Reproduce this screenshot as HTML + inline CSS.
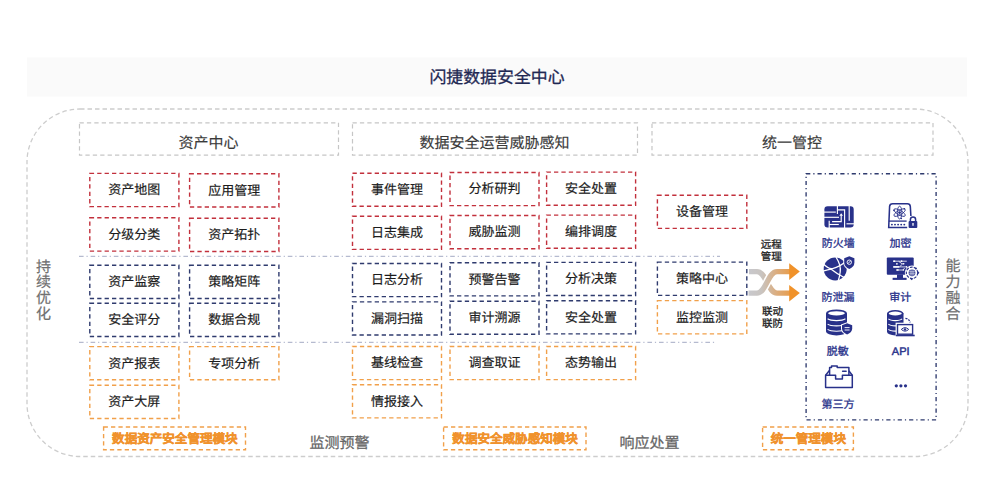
<!DOCTYPE html>
<html lang="zh-CN"><head><meta charset="utf-8"><title>闪捷数据安全中心</title>
<style>
html,body{margin:0;padding:0;background:#fff;}
body{width:995px;height:500px;overflow:hidden;font-family:"Liberation Sans",sans-serif;}
svg{display:block;}
svg text{font-family:"Liberation Sans",sans-serif;text-rendering:geometricPrecision;}
</style></head><body>
<svg width="995" height="500" viewBox="0 0 995 500">
<rect x="27" y="57.5" width="940" height="39" fill="#fafafa"/>
<text x="497.0" y="82.6" font-size="16.9" fill="#1f2853" font-weight="400" stroke="#1f2853" stroke-width="0.3" text-anchor="middle">闪捷数据安全中心</text>
<rect x="27" y="109" width="941" height="347.5" rx="53" ry="53" fill="none" stroke="#cdcdcd" stroke-width="1.3" stroke-dasharray="4.5 3"/>
<rect x="79.5" y="122.8" width="259.00" height="32.40" fill="none" stroke="#c6c6c6" stroke-width="1.2" stroke-dasharray="4.3 3.1"/>
<text x="208.40" y="147.6" font-size="15" fill="#3a3a3a" font-weight="400" stroke="#3a3a3a" stroke-width="0.15" text-anchor="middle">资产中心</text>
<rect x="352.5" y="122.8" width="285.00" height="32.40" fill="none" stroke="#c6c6c6" stroke-width="1.2" stroke-dasharray="4.3 3.1"/>
<text x="494.40" y="147.6" font-size="15" fill="#3a3a3a" font-weight="400" stroke="#3a3a3a" stroke-width="0.15" text-anchor="middle">数据安全运营威胁感知</text>
<rect x="652" y="122.8" width="281.00" height="32.40" fill="none" stroke="#c6c6c6" stroke-width="1.2" stroke-dasharray="4.3 3.1"/>
<text x="791.90" y="147.6" font-size="15" fill="#3a3a3a" font-weight="400" stroke="#3a3a3a" stroke-width="0.15" text-anchor="middle">统一管控</text>
<line x1="79" y1="256.3" x2="720" y2="256.3" stroke="#a3a9c4" stroke-width="1" stroke-dasharray="4.6 2.9 1.2 2.9"/>
<line x1="79" y1="342.3" x2="717" y2="342.3" stroke="#a3a9c4" stroke-width="1" stroke-dasharray="4.6 2.9 1.2 2.9"/>
<rect x="89.8" y="173.4" width="89.10" height="33.20" fill="none" stroke="#c2303c" stroke-width="1.4" stroke-dasharray="4.3 3.1"/>
<text x="134.35" y="194.30" font-size="13" fill="#1c1c1c" font-weight="400" stroke="#1c1c1c" stroke-width="0.17" text-anchor="middle">资产地图</text>
<rect x="189.6" y="173.8" width="89.30" height="33.20" fill="none" stroke="#c2303c" stroke-width="1.4" stroke-dasharray="4.3 3.1"/>
<text x="234.25" y="194.70" font-size="13" fill="#1c1c1c" font-weight="400" stroke="#1c1c1c" stroke-width="0.17" text-anchor="middle">应用管理</text>
<rect x="89.8" y="217.8" width="89.10" height="33.30" fill="none" stroke="#c2303c" stroke-width="1.4" stroke-dasharray="4.3 3.1"/>
<text x="134.35" y="238.75" font-size="13" fill="#1c1c1c" font-weight="400" stroke="#1c1c1c" stroke-width="0.17" text-anchor="middle">分级分类</text>
<rect x="189.6" y="218.20000000000002" width="89.30" height="33.30" fill="none" stroke="#c2303c" stroke-width="1.4" stroke-dasharray="4.3 3.1"/>
<text x="234.25" y="239.15" font-size="13" fill="#1c1c1c" font-weight="400" stroke="#1c1c1c" stroke-width="0.17" text-anchor="middle">资产拓扑</text>
<rect x="89.8" y="265.2" width="89.10" height="33.30" fill="none" stroke="#2f3b6e" stroke-width="1.4" stroke-dasharray="4.3 3.1"/>
<text x="134.35" y="286.15" font-size="13" fill="#1c1c1c" font-weight="400" stroke="#1c1c1c" stroke-width="0.17" text-anchor="middle">资产监察</text>
<rect x="189.6" y="265.2" width="89.30" height="33.30" fill="none" stroke="#2f3b6e" stroke-width="1.4" stroke-dasharray="4.3 3.1"/>
<text x="234.25" y="286.15" font-size="13" fill="#1c1c1c" font-weight="400" stroke="#1c1c1c" stroke-width="0.17" text-anchor="middle">策略矩阵</text>
<rect x="89.8" y="303.2" width="89.10" height="33.30" fill="none" stroke="#2f3b6e" stroke-width="1.4" stroke-dasharray="4.3 3.1"/>
<text x="134.35" y="324.15" font-size="13" fill="#1c1c1c" font-weight="400" stroke="#1c1c1c" stroke-width="0.17" text-anchor="middle">安全评分</text>
<rect x="189.6" y="303.2" width="89.30" height="33.30" fill="none" stroke="#2f3b6e" stroke-width="1.4" stroke-dasharray="4.3 3.1"/>
<text x="234.25" y="324.15" font-size="13" fill="#1c1c1c" font-weight="400" stroke="#1c1c1c" stroke-width="0.17" text-anchor="middle">数据合规</text>
<rect x="89.8" y="346.6" width="89.10" height="33.20" fill="none" stroke="#f1a04a" stroke-width="1.4" stroke-dasharray="4.3 3.1"/>
<text x="134.35" y="367.50" font-size="13" fill="#1c1c1c" font-weight="400" stroke="#1c1c1c" stroke-width="0.17" text-anchor="middle">资产报表</text>
<rect x="189.6" y="346.6" width="89.30" height="33.20" fill="none" stroke="#f1a04a" stroke-width="1.4" stroke-dasharray="4.3 3.1"/>
<text x="234.25" y="367.50" font-size="13" fill="#1c1c1c" font-weight="400" stroke="#1c1c1c" stroke-width="0.17" text-anchor="middle">专项分析</text>
<rect x="89.8" y="385.2" width="89.10" height="33.30" fill="none" stroke="#f1a04a" stroke-width="1.4" stroke-dasharray="4.3 3.1"/>
<text x="134.35" y="406.15" font-size="13" fill="#1c1c1c" font-weight="400" stroke="#1c1c1c" stroke-width="0.17" text-anchor="middle">资产大屏</text>
<rect x="352.5" y="173.2" width="89.00" height="33.10" fill="none" stroke="#c2303c" stroke-width="1.4" stroke-dasharray="4.3 3.1"/>
<text x="397.00" y="194.05" font-size="13" fill="#1c1c1c" font-weight="400" stroke="#1c1c1c" stroke-width="0.17" text-anchor="middle">事件管理</text>
<rect x="450" y="172.5" width="89.00" height="33.10" fill="none" stroke="#c2303c" stroke-width="1.4" stroke-dasharray="4.3 3.1"/>
<text x="494.50" y="193.35" font-size="13" fill="#1c1c1c" font-weight="400" stroke="#1c1c1c" stroke-width="0.17" text-anchor="middle">分析研判</text>
<rect x="546.6" y="172.1" width="89.00" height="33.10" fill="none" stroke="#c2303c" stroke-width="1.4" stroke-dasharray="4.3 3.1"/>
<text x="591.10" y="192.95" font-size="13" fill="#1c1c1c" font-weight="400" stroke="#1c1c1c" stroke-width="0.17" text-anchor="middle">安全处置</text>
<rect x="352.5" y="216.2" width="89.00" height="33.20" fill="none" stroke="#c2303c" stroke-width="1.4" stroke-dasharray="4.3 3.1"/>
<text x="397.00" y="237.10" font-size="13" fill="#1c1c1c" font-weight="400" stroke="#1c1c1c" stroke-width="0.17" text-anchor="middle">日志集成</text>
<rect x="450" y="215.5" width="89.00" height="33.20" fill="none" stroke="#c2303c" stroke-width="1.4" stroke-dasharray="4.3 3.1"/>
<text x="494.50" y="236.40" font-size="13" fill="#1c1c1c" font-weight="400" stroke="#1c1c1c" stroke-width="0.17" text-anchor="middle">威胁监测</text>
<rect x="546.6" y="215.1" width="89.00" height="33.20" fill="none" stroke="#c2303c" stroke-width="1.4" stroke-dasharray="4.3 3.1"/>
<text x="591.10" y="236.00" font-size="13" fill="#1c1c1c" font-weight="400" stroke="#1c1c1c" stroke-width="0.17" text-anchor="middle">编排调度</text>
<rect x="352.5" y="263.5" width="89.00" height="33.10" fill="none" stroke="#2f3b6e" stroke-width="1.4" stroke-dasharray="4.3 3.1"/>
<text x="397.00" y="284.35" font-size="13" fill="#1c1c1c" font-weight="400" stroke="#1c1c1c" stroke-width="0.17" text-anchor="middle">日志分析</text>
<rect x="450" y="262.8" width="89.00" height="33.10" fill="none" stroke="#2f3b6e" stroke-width="1.4" stroke-dasharray="4.3 3.1"/>
<text x="494.50" y="283.65" font-size="13" fill="#1c1c1c" font-weight="400" stroke="#1c1c1c" stroke-width="0.17" text-anchor="middle">预警告警</text>
<rect x="546.6" y="262.4" width="89.00" height="33.10" fill="none" stroke="#2f3b6e" stroke-width="1.4" stroke-dasharray="4.3 3.1"/>
<text x="591.10" y="283.25" font-size="13" fill="#1c1c1c" font-weight="400" stroke="#1c1c1c" stroke-width="0.17" text-anchor="middle">分析决策</text>
<rect x="352.5" y="301.9" width="89.00" height="33.10" fill="none" stroke="#2f3b6e" stroke-width="1.4" stroke-dasharray="4.3 3.1"/>
<text x="397.00" y="322.75" font-size="13" fill="#1c1c1c" font-weight="400" stroke="#1c1c1c" stroke-width="0.17" text-anchor="middle">漏洞扫描</text>
<rect x="450" y="301.2" width="89.00" height="33.10" fill="none" stroke="#2f3b6e" stroke-width="1.4" stroke-dasharray="4.3 3.1"/>
<text x="494.50" y="322.05" font-size="13" fill="#1c1c1c" font-weight="400" stroke="#1c1c1c" stroke-width="0.17" text-anchor="middle">审计溯源</text>
<rect x="546.6" y="300.79999999999995" width="89.00" height="33.10" fill="none" stroke="#2f3b6e" stroke-width="1.4" stroke-dasharray="4.3 3.1"/>
<text x="591.10" y="321.65" font-size="13" fill="#1c1c1c" font-weight="400" stroke="#1c1c1c" stroke-width="0.17" text-anchor="middle">安全处置</text>
<rect x="352.5" y="346.5" width="89.00" height="33.10" fill="none" stroke="#f1a04a" stroke-width="1.4" stroke-dasharray="4.3 3.1"/>
<text x="397.00" y="367.35" font-size="13" fill="#1c1c1c" font-weight="400" stroke="#1c1c1c" stroke-width="0.17" text-anchor="middle">基线检查</text>
<rect x="450" y="346.5" width="89.00" height="33.10" fill="none" stroke="#f1a04a" stroke-width="1.4" stroke-dasharray="4.3 3.1"/>
<text x="494.50" y="367.35" font-size="13" fill="#1c1c1c" font-weight="400" stroke="#1c1c1c" stroke-width="0.17" text-anchor="middle">调查取证</text>
<rect x="546.6" y="346.5" width="89.00" height="33.10" fill="none" stroke="#f1a04a" stroke-width="1.4" stroke-dasharray="4.3 3.1"/>
<text x="591.10" y="367.35" font-size="13" fill="#1c1c1c" font-weight="400" stroke="#1c1c1c" stroke-width="0.17" text-anchor="middle">态势输出</text>
<rect x="352.5" y="384.7" width="89.00" height="33.20" fill="none" stroke="#f1a04a" stroke-width="1.4" stroke-dasharray="4.3 3.1"/>
<text x="397.00" y="405.60" font-size="13" fill="#1c1c1c" font-weight="400" stroke="#1c1c1c" stroke-width="0.17" text-anchor="middle">情报接入</text>
<rect x="657.4" y="195.3" width="89.40" height="33.10" fill="none" stroke="#c2303c" stroke-width="1.4" stroke-dasharray="4.3 3.1"/>
<text x="702.10" y="216.15" font-size="13" fill="#1c1c1c" font-weight="400" stroke="#1c1c1c" stroke-width="0.17" text-anchor="middle">设备管理</text>
<rect x="657.4" y="262.1" width="89.40" height="33.30" fill="none" stroke="#2f3b6e" stroke-width="1.4" stroke-dasharray="4.3 3.1"/>
<text x="702.10" y="283.05" font-size="13" fill="#1c1c1c" font-weight="400" stroke="#1c1c1c" stroke-width="0.17" text-anchor="middle">策略中心</text>
<rect x="657.4" y="300.6" width="89.40" height="33.30" fill="none" stroke="#f1a04a" stroke-width="1.4" stroke-dasharray="4.3 3.1"/>
<text x="702.10" y="321.55" font-size="13" fill="#1c1c1c" font-weight="400" stroke="#1c1c1c" stroke-width="0.17" text-anchor="middle">监控监测</text>
<text x="771.3" y="248" font-size="10.5" fill="#222" font-weight="400" stroke="#222" stroke-width="0.3" text-anchor="middle">远程</text>
<text x="771.3" y="259.6" font-size="10.5" fill="#222" font-weight="400" stroke="#222" stroke-width="0.3" text-anchor="middle">管理</text>
<text x="772.4" y="315.4" font-size="10.5" fill="#222" font-weight="400" stroke="#222" stroke-width="0.3" text-anchor="middle">联动</text>
<text x="772.4" y="327" font-size="10.5" fill="#222" font-weight="400" stroke="#222" stroke-width="0.3" text-anchor="middle">联防</text>
<defs><linearGradient id="ag" x1="749" y1="0" x2="800" y2="0" gradientUnits="userSpaceOnUse">
<stop offset="0" stop-color="#c8c8cc"/><stop offset="0.25" stop-color="#c9c4c0"/><stop offset="0.55" stop-color="#dcac7c"/><stop offset="1" stop-color="#f0922a"/></linearGradient></defs>
<path d="M749 271.6 H757 C766 271.6 768 293.1 777 293.1 H790" fill="none" stroke="url(#ag)" stroke-width="5.4"/>
<path d="M749 293.1 H757 C766 293.1 768 271.6 777 271.6 H790" fill="none" stroke="#fff" stroke-width="8.4"/>
<path d="M748.5 293.1 H757 C766 293.1 768 271.6 777 271.6 H790" fill="none" stroke="url(#ag)" stroke-width="5.4"/>
<g fill="#f0922a"><path d="M789.2 263.3 L799.8 271.6 L789.2 279.9 Z"/><path d="M789.2 285.1 L799.8 293.1 L789.2 301.5 Z"/></g>
<rect x="806.1" y="173.7" width="130" height="246.2" fill="none" stroke="#2f3b6e" stroke-width="1.35" stroke-dasharray="4.2 3 1.2 3"/>
<text x="838.3" y="246.5" font-size="11" fill="#28318a" font-weight="400" stroke="#28318a" stroke-width="0.3" text-anchor="middle">防火墙</text>
<text x="900.6" y="246.5" font-size="11" fill="#28318a" font-weight="400" stroke="#28318a" stroke-width="0.3" text-anchor="middle">加密</text>
<text x="838" y="300.6" font-size="11" fill="#28318a" font-weight="400" stroke="#28318a" stroke-width="0.3" text-anchor="middle">防泄漏</text>
<text x="900.3" y="300.6" font-size="11" fill="#28318a" font-weight="400" stroke="#28318a" stroke-width="0.3" text-anchor="middle">审计</text>
<text x="837.7" y="354.8" font-size="11" fill="#28318a" font-weight="400" stroke="#28318a" stroke-width="0.3" text-anchor="middle">脱敏</text>
<text x="838" y="408.4" font-size="11" fill="#28318a" font-weight="400" stroke="#28318a" stroke-width="0.3" text-anchor="middle">第三方</text>
<text x="900.7" y="354.8" font-size="11" fill="#28318a" font-weight="400" stroke="#28318a" stroke-width="0.45" text-anchor="middle">API</text>
<circle cx="896.3" cy="385.8" r="1.6" fill="#28318a"/>
<circle cx="900.9" cy="385.8" r="1.6" fill="#28318a"/>
<circle cx="905.5" cy="385.8" r="1.6" fill="#28318a"/>
<rect x="103.6" y="427" width="141.90" height="22.80" fill="none" stroke="#f1a04a" stroke-width="1.4" stroke-dasharray="4.3 3.1"/>
<text x="174.85" y="442.7" font-size="12.55" fill="#f0922c" font-weight="700" stroke="#f0922c" stroke-width="0.35" text-anchor="middle">数据资产安全管理模块</text>
<rect x="443.6" y="427" width="142.40" height="22.80" fill="none" stroke="#f1a04a" stroke-width="1.4" stroke-dasharray="4.3 3.1"/>
<text x="515.10" y="442.7" font-size="12.55" fill="#f0922c" font-weight="700" stroke="#f0922c" stroke-width="0.35" text-anchor="middle">数据安全威胁感知模块</text>
<rect x="762.6" y="427" width="90.80" height="22.80" fill="none" stroke="#f1a04a" stroke-width="1.4" stroke-dasharray="4.3 3.1"/>
<text x="808.30" y="442.7" font-size="12.55" fill="#f0922c" font-weight="700" stroke="#f0922c" stroke-width="0.35" text-anchor="middle">统一管理模块</text>
<text x="339.5" y="448" font-size="15" fill="#666" font-weight="400" stroke="#666" stroke-width="0.25" text-anchor="middle">监测预警</text>
<text x="649.6" y="448" font-size="15" fill="#666" font-weight="400" stroke="#666" stroke-width="0.25" text-anchor="middle">响应处置</text>
<text x="43.4" y="271.8" font-size="15" fill="#707070" font-weight="400" stroke="#707070" stroke-width="0.2" text-anchor="middle">持</text>
<text x="43.4" y="287.40000000000003" font-size="15" fill="#707070" font-weight="400" stroke="#707070" stroke-width="0.2" text-anchor="middle">续</text>
<text x="43.4" y="303.0" font-size="15" fill="#707070" font-weight="400" stroke="#707070" stroke-width="0.2" text-anchor="middle">优</text>
<text x="43.4" y="318.6" font-size="15" fill="#707070" font-weight="400" stroke="#707070" stroke-width="0.2" text-anchor="middle">化</text>
<text x="953.0" y="270.6" font-size="15" fill="#707070" font-weight="400" stroke="#707070" stroke-width="0.2" text-anchor="middle">能</text>
<text x="953.0" y="286.70000000000005" font-size="15" fill="#707070" font-weight="400" stroke="#707070" stroke-width="0.2" text-anchor="middle">力</text>
<text x="953.0" y="302.8" font-size="15" fill="#707070" font-weight="400" stroke="#707070" stroke-width="0.2" text-anchor="middle">融</text>
<text x="953.0" y="318.90000000000003" font-size="15" fill="#707070" font-weight="400" stroke="#707070" stroke-width="0.2" text-anchor="middle">合</text>
<g id="icons">
<!-- firewall -->
<g transform="translate(824.4 206.2)">
<rect x="0" y="0" width="29.3" height="21.3" rx="3.2" fill="#28318a"/>
<g stroke="#fff" stroke-width="1.15" fill="none">
<path d="M-0.5 5.9 H11.4"/>
<path d="M13 -0.5 V7.8"/>
<path d="M-0.5 11.1 H14.6"/>
<path d="M13 3.6 H20.2 V21.8"/>
<path d="M24.8 -0.5 V14.6"/>
<path d="M22.1 17.6 H29.8"/>
<path d="M7.7 15.4 H16.8 V9"/>
<path d="M4.8 14.6 V21.8"/>
<path d="M4.8 18.3 H14.4"/>
</g>
<path d="M15 9.6 L16.8 7.1 L18.6 9.6 Z" fill="#fff"/>
</g>
<!-- encryption -->
<g fill="none" stroke="#28318a">
<path d="M907.2 227.5 H888.7 L889.6 206.3 Q889.9 203.8 892.6 203.8 H907.4 Q910 203.8 910.3 206.3 L910.9 216" stroke-width="1.55"/>
<path d="M888.8 221.1 H906.6" stroke-width="1.3"/>
<g stroke-width="0.85">
<ellipse cx="899.6" cy="212.6" rx="6.4" ry="2.3" transform="rotate(90 899.6 212.6)"/>
<ellipse cx="899.6" cy="212.6" rx="6.4" ry="2.3" transform="rotate(30 899.6 212.6)"/>
<ellipse cx="899.6" cy="212.6" rx="6.4" ry="2.3" transform="rotate(-30 899.6 212.6)"/>
</g>
<path d="M910.4 221.3 V219.6 A2.6 2.6 0 0 1 915.6 219.6 V221.3" stroke-width="1.5"/>
</g>
<g fill="#28318a"><circle cx="899.6" cy="212.6" r="1.4"/><circle cx="894" cy="210.4" r="0.8"/><circle cx="904.4" cy="208.8" r="0.8"/><circle cx="901.3" cy="218.5" r="0.8"/></g>
<g fill="#28318a">
<circle cx="891.9" cy="224.6" r="0.95"/><circle cx="895" cy="224.6" r="0.95"/><circle cx="898.1" cy="224.6" r="0.95"/><circle cx="901.2" cy="224.6" r="0.95"/><circle cx="904.3" cy="224.6" r="0.95"/>
<rect x="908.6" y="221" width="8.7" height="6.9" rx="1"/>
</g>
<path d="M913 223 V225.8" stroke="#fff" stroke-width="1.3"/>
<!-- globe + shield -->
<circle cx="835.2" cy="268.9" r="11.5" fill="#28318a"/>
<g stroke="#fff" stroke-width="1.3" fill="none">
<path d="M823.2 263.8 Q828.5 269.3 832.5 268.6 Q840 266.8 847 260.5"/>
<path d="M823 271.2 Q828 269.6 831.2 269.2 Q836.5 273.5 845 278"/>
<path d="M835.9 257 Q841.2 265 840.2 272 Q839.6 277 838 281.5"/>
</g>
<path d="M849.3 255.3 L855.3 257.6 V262.5 Q855.3 267.6 849.3 270 Q843.3 267.6 843.3 262.5 V257.6 Z" fill="#fff"/>
<path d="M849.3 256.2 L854.4 258.2 V262.5 Q854.4 266.8 849.3 269 Q844.2 266.8 844.2 262.5 V258.2 Z" fill="#28318a"/>
<circle cx="849.3" cy="262.2" r="2.2" fill="none" stroke="#fff" stroke-width="0.9"/>
<path d="M847.9 263.6 L850.7 260.8" stroke="#fff" stroke-width="0.9"/>
<!-- monitor -->
<rect x="886.8" y="257.4" width="26.9" height="17.3" rx="1" fill="#28318a"/>
<rect x="897" y="274.5" width="6" height="3.6" fill="#28318a"/>
<rect x="892.6" y="277.8" width="14" height="2.1" fill="#28318a"/>
<g stroke="#fff" stroke-width="0.8" fill="none">
<path d="M893.6 261.2 H898.5 L902 263.8 H904"/>
<path d="M898.5 261.2 H906.8"/>
<path d="M893.6 266.9 H906.8"/>
<path d="M899.5 266.9 L902.5 264"/>
<path d="M896.6 270 H903.2 L904.6 268"/>
</g>
<g fill="#fff">
<rect x="893.2" y="260.4" width="2" height="1.6"/><circle cx="901.6" cy="261.2" r="0.9"/><circle cx="896.9" cy="263.8" r="0.9"/><circle cx="903.7" cy="263.8" r="0.8"/><rect x="893.2" y="266.1" width="6" height="1.6"/><circle cx="906.6" cy="266.9" r="0.8"/><rect x="896.4" y="269.2" width="2.2" height="1.6"/><circle cx="903.4" cy="270" r="0.8"/>
</g>
<circle cx="912" cy="272.8" r="7.2" fill="#fff"/>
<circle cx="912" cy="272.8" r="5.7" fill="none" stroke="#28318a" stroke-width="1.15" stroke-dasharray="2.8 1.2"/>
<circle cx="912" cy="272.8" r="3.4" fill="#28318a"/>
<path d="M911 269.6 V276 M913 269.6 V276 M908.8 271.8 H915.2 M908.8 273.8 H915.2" stroke="#fff" stroke-width="0.6"/>
<circle cx="915.9" cy="268.5" r="1" fill="#28318a"/><path d="M917.8 271 L919.4 272.8 L917.8 274.6 Z M909.9 278.6 L911.7 280.2 L913.5 278.6 Z" fill="#28318a"/>
<!-- DB + shield -->
<path d="M826 313.3 V331.6 A10.5 3.8 0 0 0 847 331.6 V313.3 Z" fill="#28318a"/>
<ellipse cx="836.5" cy="313.3" rx="10.5" ry="3.8" fill="#28318a"/>
<ellipse cx="836.5" cy="313.3" rx="8.4" ry="2.1" fill="#fff"/>
<g stroke="#fff" stroke-width="1.1" fill="none">
<path d="M827.6 318.8 A9.6 2.9 0 0 0 845.4 318.8"/>
<path d="M827.6 324.1 A9.6 2.9 0 0 0 845.4 324.1"/>
<path d="M827.6 329.4 A9.6 2.9 0 0 0 845.4 329.4"/>
</g>
<path d="M847.1 322.3 L853.2 324.6 V328.6 Q853.2 333.3 847.1 335.6 Q841 333.3 841 328.6 V324.6 Z" fill="#fff"/>
<path d="M847.1 323.2 L852.2 325.2 V328.6 Q852.2 332.6 847.1 334.5 Q842 332.6 842 328.6 V325.2 Z" fill="#28318a"/>
<path d="M844.6 327.6 H849.6 M844.6 330 H849.6" stroke="#fff" stroke-width="0.9"/>
<!-- DB + laptop (API) -->
<path d="M887 313.5 V331.8 A8.25 3.6 0 0 0 903.5 331.8 V313.5 Z" fill="#28318a"/>
<ellipse cx="895.25" cy="313.5" rx="8.25" ry="3.6" fill="#28318a"/>
<ellipse cx="895.25" cy="313.5" rx="6.5" ry="1.9" fill="#fff"/>
<g stroke="#fff" stroke-width="1.1" fill="none">
<path d="M888.4 318.9 A7.4 2.7 0 0 0 902.1 318.9"/>
<path d="M888.4 324.2 A7.4 2.7 0 0 0 902.1 324.2"/>
<path d="M888.4 329.4 A7.4 2.7 0 0 0 902.1 329.4"/>
</g>
<path d="M905.4 318.4 Q909.6 318.9 910.1 322.6" fill="none" stroke="#28318a" stroke-width="1.3" stroke-dasharray="2 1"/>
<rect x="895.6" y="322.7" width="18.9" height="13.6" fill="#fff"/>
<rect x="897.5" y="324.6" width="15.1" height="9.6" fill="#fff" stroke="#28318a" stroke-width="1.4"/>
<path d="M895.8 335.5 H914.7" stroke="#28318a" stroke-width="1.6"/>
<path d="M901.3 329.4 Q905 325.9 908.7 329.4 Q905 332.9 901.3 329.4 Z" fill="none" stroke="#28318a" stroke-width="1"/>
<circle cx="905" cy="329.4" r="1.2" fill="#28318a"/>
<!-- inbox -->
<g fill="none" stroke="#28318a" stroke-width="1.5" stroke-linejoin="round">
<path d="M825.6 375.2 H835.6 V378.9 H842.4 V375.2 H852.3 V387.6 H825.6 Z"/>
<path d="M825.6 375.2 L829.4 370.6 M852.3 375.2 L848.8 370.8"/>
<path d="M829.6 375 V367.6 H831.5 V365.9 H837.2 V367.6 H848.9 V375"/>
</g>
<path d="M842.6 371.3 H846.1" stroke="#28318a" stroke-width="1.5" stroke-linecap="round"/>
</g>

</svg>
</body></html>
